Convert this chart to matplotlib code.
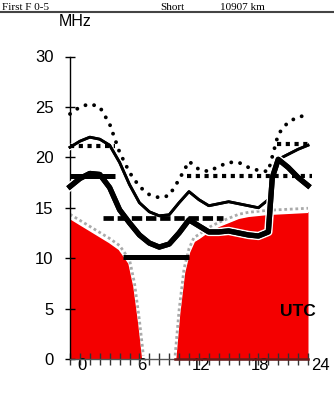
import matplotlib
matplotlib.use("Agg")
import matplotlib.pyplot as plt
import matplotlib.patheffects as pe
from matplotlib.lines import Line2D
from matplotlib.transforms import ScaledTranslation

# ---------------- data ----------------
hours = [0, 1, 2, 3, 4, 5, 6, 7, 8, 9, 10, 11, 12, 13, 14, 15, 16, 17, 18, 19, 20, 21, 22, 23, 24]
upper_dotted = [24.3, 25.0, 25.3, 25.0, 23.3, 20.5, 18.5, 17.1, 16.3, 16.0, 16.2, 17.8, 19.6,
                18.8, 18.6, 19.1, 19.5, 19.5, 19.0, 18.7, 18.6, 22.3, 23.5, 24.0, 24.2]

thin_hours = [0, 1, 2, 3, 4, 5, 6, 7, 8, 9, 10, 11, 12, 13, 14, 15, 16, 17, 18, 19, 20, 20.5, 21, 22, 23, 24]
thin_curve = [21.0, 21.6, 22.0, 21.8, 21.2, 19.5, 17.3, 15.5, 14.6, 14.2, 14.3, 15.5, 16.6,
              15.8, 15.2, 15.4, 15.6, 15.4, 15.2, 15.0, 15.8, 17.8, 19.8, 20.3, 20.8, 21.2]

thick_hours = [0, 1, 2, 3, 4, 5, 6, 7, 8, 9, 10, 11, 12, 13, 14, 15, 16, 17, 18, 19, 20, 20.4, 21, 22, 23, 24]
thick_curve = [17.1, 17.9, 18.4, 18.3, 17.0, 14.8, 13.5, 12.3, 11.5, 11.1, 11.4, 12.5, 13.8,
               13.2, 12.6, 12.6, 12.7, 12.5, 12.3, 12.2, 12.6, 18.0, 19.8, 19.0, 18.0, 17.2]

# horizontal segments: (start hour, end hour, MHz)
solid_bars = [(0.0, 4.5, 18.1), (5.3, 12.0, 10.1)]
dashed_bars = [(3.3, 15.4, 14.0)]
dotted_bars = [(0.0, 4.5, 21.1), (11.8, 24.4, 18.1), (20.9, 24.4, 21.3)]

# LUF (red) region
luf_left_h = [0, 1, 2, 3, 4, 5, 6, 6.5, 7, 7.4]
luf_left_f = [14.0, 13.4, 12.8, 12.2, 11.6, 10.9, 9.5, 7.2, 3.5, 0.0]
luf_right_h = [10.6, 11, 11.5, 12, 12.5, 13, 14, 15, 16, 17, 18, 20, 22, 24]
luf_right_f = [0.0, 4.5, 8.6, 10.6, 11.7, 12.0, 12.7, 13.2, 13.6, 14.0, 14.2, 14.4, 14.5, 14.6]

y_ticks = [0, 5, 10, 15, 20, 25, 30]
x_ticks = [0, 6, 12, 18, 24]
x_labels = ["0", "6", "12", "18", "24"]

# ---------------- figure ----------------
W, H = 334, 395
fig = plt.figure(figsize=(W / 100, H / 100), dpi=100)
fig.patch.set_facecolor("white")
ax = fig.add_axes([70 / W, 36 / H, 238 / W, 302.5 / H])
ax.set_xlim(0, 24)
ax.set_ylim(0, 30)
for s in ["top", "right"]:
    ax.spines[s].set_visible(False)
ax.spines["left"].set_linewidth(1.0)
ax.spines["bottom"].set_linewidth(1.0)
ax.spines["bottom"].set_color("#555555")

red = "#f40000"
ax.fill_between(luf_left_h, luf_left_f, 0, color=red, lw=0, zorder=1)
ax.fill_between(luf_right_h, luf_right_f, 0, color=red, lw=0, zorder=1)
ax.plot(luf_left_h, luf_left_f, color="white", lw=1.8, zorder=1.5)
ax.plot(luf_right_h, luf_right_f, color="white", lw=1.8, zorder=1.5)
ax.plot(luf_left_h, [v + 0.35 for v in luf_left_f], color="#aaaaaa", lw=2.0,
        linestyle=(0, (1, 1)), zorder=1.6)
ax.plot(luf_right_h, [v + 0.35 for v in luf_right_f], color="#aaaaaa", lw=2.0,
        linestyle=(0, (1, 1)), zorder=1.6)
ax.plot([luf_right_h[0], luf_right_h[-1]], [0, 0], color="#6b1a1a", lw=1.8, zorder=3, clip_on=False)

ax.plot(hours, upper_dotted, color="black", lw=2.8, linestyle=(0, (0.01, 2.3)),
        solid_capstyle="round", dash_capstyle="round", zorder=4, clip_on=False)
ax.plot(thin_hours, thin_curve, color="black", lw=2.0, zorder=5, clip_on=False,
        path_effects=[pe.withStroke(linewidth=4, foreground="white"), pe.Normal()])
ax.plot(thick_hours, thick_curve, color="black", lw=3.8, zorder=6, clip_on=False,
        solid_joinstyle="round",
        path_effects=[pe.withStroke(linewidth=6, foreground="white"), pe.Normal()])

for h0, h1, f in solid_bars:
    ax.plot([h0, h1], [f, f], color="black", lw=3.6, solid_capstyle="butt", zorder=6)
for h0, h1, f in dashed_bars:
    ax.plot([h0, h1], [f, f], color="black", lw=3.4, linestyle=(0, (2.2, 0.8)), zorder=6)
for h0, h1, f in dotted_bars:
    ax.plot([h0, h1], [f, f], color="black", lw=3.0, linestyle=(0, (1, 1.1)), zorder=6,
            clip_on=False)

# ticks
ax.set_yticks(y_ticks)
ax.set_yticklabels([str(v) for v in y_ticks])
ax.tick_params(axis="y", direction="inout", length=7, width=1.0, pad=8.5,
               labelsize=12, colors="black")
ax.set_xticks(x_ticks)
ax.set_xticklabels(x_labels)
ax.set_xticks(range(0, 25), minor=True)
ax.tick_params(axis="x", which="both", direction="inout", length=8, width=1.0,
               pad=-4.5, labelsize=12, colors="#333333")
ax.tick_params(axis="x", labelcolor="black")
for lab in ax.get_xticklabels() + ax.get_yticklabels():
    lab.set_fontfamily("Liberation Sans")
off = ScaledTranslation(12 / 100, 0, fig.dpi_scale_trans)
for lab in ax.get_xticklabels():
    lab.set_transform(lab.get_transform() + off)
    lab.set_zorder(8)

fig.text(298 / W, 1 - 311 / H, "UTC", ha="center", va="center",
         fontsize=12.5, fontweight="bold", family="Liberation Sans", zorder=9)
fig.text(75 / W, 1 - 22 / H, "MHz", ha="center", va="center", fontsize=11.5,
         family="Liberation Sans")

# top strip header
fig.text(2 / W, 1 - 10 / H, "First F 0-5", ha="left", va="baseline", fontsize=8,
         family="Liberation Serif")
fig.text(160 / W, 1 - 10 / H, "Short", ha="left", va="baseline", fontsize=8,
         family="Liberation Serif")
fig.text(220 / W, 1 - 10 / H, "10907 km", ha="left", va="baseline", fontsize=8,
         family="Liberation Serif")
fig.add_artist(Line2D([0, 1], [1 - 12 / H, 1 - 12 / H], transform=fig.transFigure,
                      color="#444444", lw=1.5))

fig.savefig("out.png", dpi=100, facecolor="white")
